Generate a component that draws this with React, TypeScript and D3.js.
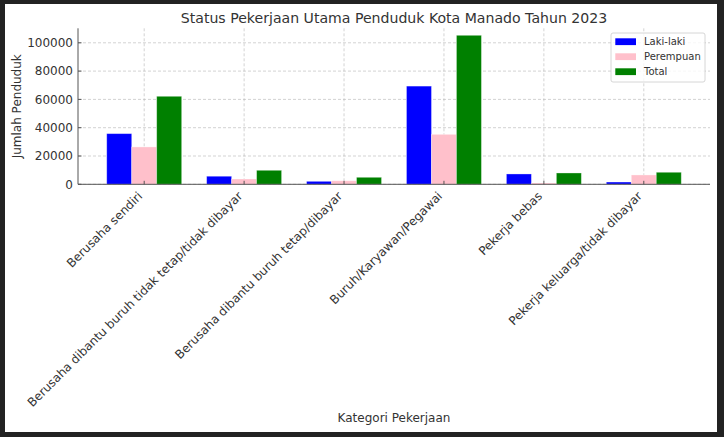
import { useEffect, useRef } from 'react';
import * as d3 from 'd3';

const categories = [
  'Berusaha sendiri',
  'Berusaha dibantu buruh tidak tetap/tidak dibayar',
  'Berusaha dibantu buruh tetap/dibayar',
  'Buruh/Karyawan/Pegawai',
  'Pekerja bebas',
  'Pekerja keluarga/tidak dibayar',
];

const lakiLaki = [35800, 5700, 2100, 69400, 7300, 1600];
const perempuan = [26400, 3750, 2500, 35300, 900, 6600];
const total = [62200, 9900, 4950, 105300, 8000, 8500];

const yTicks = [0, 20000, 40000, 60000, 80000, 100000];

const seriesNames = ['Laki-laki', 'Perempuan', 'Total'];
const seriesColors = ['#0000ff', '#ffc0cb', '#008000'];

const FONT = 'DejaVu Sans, sans-serif';
const TEXT = '#333333';

export default function App() {
  const svgRef = useRef<SVGSVGElement>(null);

  useEffect(() => {
    if (!svgRef.current) return;
    const svg = d3.select(svgRef.current);
    svg.selectAll('*').remove();

    const W = 724;
    const H = 437;
    const margin = { top: 28.3, right: 14, bottom: 252.7, left: 78 };
    const pw = W - margin.left - margin.right;
    const ph = H - margin.top - margin.bottom;

    // dark frame + white page
    svg.append('rect').attr('width', W).attr('height', H).attr('fill', '#222222');
    svg.append('rect').attr('x', 5).attr('y', 4).attr('width', 712).attr('height', 428).attr('fill', '#ffffff');

    const g = svg.append('g').attr('transform', `translate(${margin.left},${margin.top})`);

    const series = [lakiLaki, perempuan, total];
    const barW = 0.25;
    const x = d3.scaleLinear().domain([-0.6625, categories.length - 1 + 0.6625]).range([0, pw]);
    const ymax = d3.max(total)! * 1.047;
    const y = d3.scaleLinear().domain([0, ymax]).range([ph, 0]);

    // grid
    g.selectAll('.hgrid')
      .data(yTicks)
      .enter()
      .append('line')
      .attr('x1', 0)
      .attr('x2', pw)
      .attr('y1', d => y(d))
      .attr('y2', d => y(d))
      .attr('stroke', '#b0b0b0')
      .attr('stroke-opacity', 0.7)
      .attr('stroke-width', 0.8)
      .attr('stroke-dasharray', '3,2');

    g.selectAll('.vgrid')
      .data(categories)
      .enter()
      .append('line')
      .attr('x1', (_, i) => x(i))
      .attr('x2', (_, i) => x(i))
      .attr('y1', 0)
      .attr('y2', ph)
      .attr('stroke', '#b0b0b0')
      .attr('stroke-opacity', 0.7)
      .attr('stroke-width', 0.8)
      .attr('stroke-dasharray', '3,2');

    // bars
    series.forEach((vals, s) => {
      g.selectAll(`.bar-${s}`)
        .data(vals)
        .enter()
        .append('rect')
        .attr('x', (_, i) => x(i + (s - 1.5) * barW))
        .attr('width', x(barW) - x(0))
        .attr('y', d => y(d))
        .attr('height', d => ph - y(d))
        .attr('fill', seriesColors[s])
        .attr('stroke', '#ffffff')
        .attr('stroke-opacity', 0.4)
        .attr('stroke-width', 0.8);
    });

    // spines
    g.append('line').attr('x1', 0).attr('x2', 0).attr('y1', 0).attr('y2', ph)
      .attr('stroke', '#555').attr('stroke-width', 1);
    g.append('line').attr('x1', 0).attr('x2', pw).attr('y1', ph).attr('y2', ph)
      .attr('stroke', '#555').attr('stroke-width', 1);

    // y ticks
    yTicks.forEach(t => {
      g.append('line').attr('x1', 0).attr('x2', 3.5).attr('y1', y(t)).attr('y2', y(t))
        .attr('stroke', '#555');
      g.append('text')
        .attr('x', -5)
        .attr('y', y(t))
        .attr('dy', '0.36em')
        .attr('text-anchor', 'end')
        .attr('font-family', FONT)
        .attr('font-size', 12)
        .attr('fill', TEXT)
        .text(String(t));
    });

    // x ticks
    categories.forEach((c, i) => {
      g.append('line').attr('x1', x(i)).attr('x2', x(i)).attr('y1', ph).attr('y2', ph - 3.5)
        .attr('stroke', '#555');
      g.append('text')
        .attr('transform', `translate(${x(i) - 1},${ph + 12.5}) rotate(-45)`)
        .attr('text-anchor', 'end')
        .attr('font-family', FONT)
        .attr('font-size', 12)
        .attr('fill', TEXT)
        .text(c);
    });

    // axis titles
    g.append('text')
      .attr('transform', `translate(${17 - margin.left},${ph / 2}) rotate(-90)`)
      .attr('text-anchor', 'middle')
      .attr('dy', '0.35em')
      .attr('font-family', FONT)
      .attr('font-size', 12)
      .attr('fill', TEXT)
      .text('Jumlah Penduduk');

    svg.append('text')
      .attr('x', margin.left + pw / 2)
      .attr('y', 422)
      .attr('text-anchor', 'middle')
      .attr('font-family', FONT)
      .attr('font-size', 12)
      .attr('fill', TEXT)
      .text('Kategori Pekerjaan');

    // title
    svg.append('text')
      .attr('x', margin.left + pw / 2)
      .attr('y', 22.5)
      .attr('text-anchor', 'middle')
      .attr('font-family', FONT)
      .attr('font-size', 14.1)
      .attr('fill', TEXT)
      .text('Status Pekerjaan Utama Penduduk Kota Manado Tahun 2023');

    // legend
    const legend = svg.append('g').attr('transform', 'translate(611,33)');
    legend.append('rect')
      .attr('width', 94)
      .attr('height', 49)
      .attr('rx', 2)
      .attr('fill', '#ffffff')
      .attr('fill-opacity', 0.8)
      .attr('stroke', '#cccccc')
      .attr('stroke-width', 0.8);
    seriesNames.forEach((name, i) => {
      const cy = 8.7 + i * 15;
      legend.append('rect')
        .attr('x', 4.3)
        .attr('y', cy - 3.4)
        .attr('width', 20.7)
        .attr('height', 6.8)
        .attr('fill', seriesColors[i]);
      legend.append('text')
        .attr('x', 33)
        .attr('y', cy)
        .attr('dy', '0.36em')
        .attr('font-family', FONT)
        .attr('font-size', 10)
        .attr('fill', TEXT)
        .text(name);
    });
  }, []);

  return (
    <div>
      <style>{`body { margin: 0; }`}</style>
      <svg ref={svgRef} width={724} height={437} style={{ display: 'block' }} />
    </div>
  );
}
